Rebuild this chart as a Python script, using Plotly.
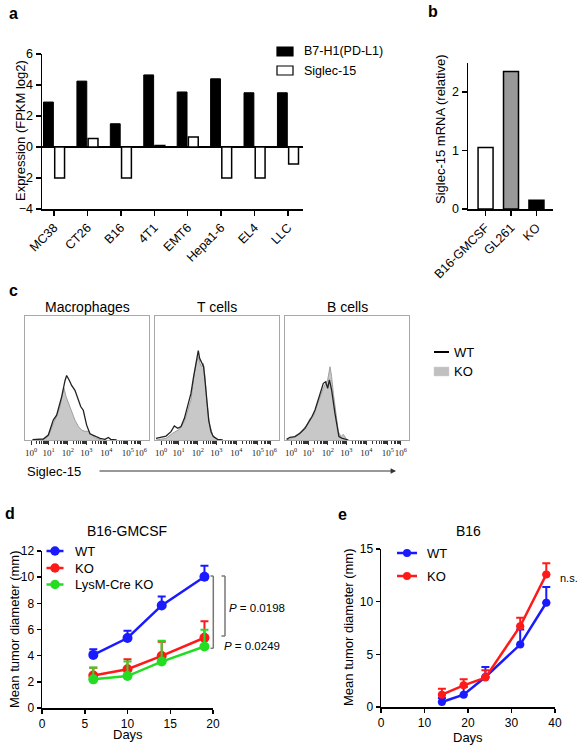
import math
import plotly.graph_objects as go

W, H = 582, 748

# ---------------- data ----------------
# panel a
cell_lines = ["MC38", "CT26", "B16", "4T1", "EMT6", "Hepa1-6", "EL4", "LLC"]
b7h1_expr = [2.9, 4.25, 1.5, 4.65, 3.55, 4.4, 3.5, 3.5]
siglec15_expr = [-2.0, 0.55, -2.0, 0.1, 0.65, -2.0, -2.0, -1.1]

# panel b
b_samples = ["B16-GMCSF", "GL261", "KO"]
b_mrna = [1.05, 2.35, 0.15]

# panel c (flow histograms; x in display channels, y in % of max)
decade_labels = ["10<sup>0</sup>", "10<sup>1</sup>", "10<sup>2</sup>", "10<sup>3</sup>",
                 "10<sup>4</sup>", "10<sup>5</sup>", "10<sup>6</sup>"]
decade_channels = [50, 190, 345, 495, 655, 830, 935]
cell_types = ["Macrophages", "T cells", "B cells"]

mac_wt_x = [60, 148, 188, 228, 255, 296, 323, 336, 358, 376, 403, 430, 449, 470, 497, 524, 564, 605, 645, 672, 691, 739]
mac_wt_y = [0.3, 0.8, 4, 16, 20, 35, 48, 52, 48, 44, 40, 32, 27, 24, 12, 5, 3, 1.3, 0.5, 2, 0.5, 0]
mac_ko_x = [134, 188, 228, 255, 282, 314, 331, 349, 376, 403, 430, 457, 484, 511, 538, 573, 618]
mac_ko_y = [0, 3, 13, 19, 27, 42, 35, 30, 23, 16, 11, 8, 7, 7, 4, 1.3, 0]

t_wt_x = [8, 48, 89, 129, 156, 183, 210, 237, 263, 290, 309, 325, 339, 349, 360, 371, 384, 392, 403, 417, 433, 452, 470, 505, 546]
t_wt_y = [1.3, 2.2, 3.2, 6.7, 11.3, 9.4, 10.8, 17.5, 26.9, 37.6, 49.7, 59.1, 68.5, 72, 65.9, 63.2, 60.5, 59.1, 48.4, 32.3, 16.1, 6.7, 2.7, 0.5, 0]
t_ko_x = [8, 89, 142, 196, 237, 263, 290, 317, 336, 352, 363, 376, 390, 403, 417, 438, 465, 505, 532]
t_ko_y = [0, 1.3, 5.4, 8.6, 14.8, 24.2, 32.3, 53.8, 63.2, 67.2, 61.8, 59.1, 61.8, 51.1, 32.3, 13.4, 4.0, 0.5, 0]

b_wt_x = [13, 40, 81, 121, 161, 188, 215, 242, 269, 296, 309, 328, 344, 358, 376, 403, 435, 457, 484, 511]
b_wt_y = [0.5, 2.2, 2.7, 5.4, 9.4, 13.4, 18.3, 24.2, 32.3, 40.3, 45.7, 47.0, 41.7, 48.4, 40.3, 21.5, 2.7, 1.6, 0.5, 0]
b_ko_x = [13, 54, 121, 148, 175, 202, 228, 255, 282, 309, 328, 344, 363, 376, 390, 409, 430, 452, 470, 497, 511]
b_ko_y = [0, 1.3, 5.9, 9.4, 12.1, 17.5, 18.8, 26.9, 34.9, 41.7, 45.7, 48.4, 59.1, 51.1, 37.6, 21.5, 6.7, 2.7, 4.6, 0.5, 0]

# panel d
d_days = [6, 10, 14, 19]
d_wt = [4.06, 5.35, 7.84, 10.03]
d_wt_err = [0.44, 0.56, 0.69, 0.84]
d_ko = [2.49, 2.96, 3.98, 5.37]
d_ko_err = [0.59, 0.77, 1.08, 1.26]
d_lysm = [2.19, 2.44, 3.55, 4.70]
d_lysm_err = [0.9, 1.11, 1.59, 1.29]

# panel e
e_days = [14, 19, 24, 32, 38]
e_wt = [0.48, 1.17, 2.85, 5.93, 9.9]
e_wt_err = [0.38, 0.73, 0.95, 1.43, 1.5]
e_ko = [1.17, 2.06, 2.79, 7.67, 12.59]
e_ko_err = [0.57, 0.57, 0.71, 0.8, 1.05]

BLUE, RED, GREEN = "#1a1aff", "#ff1a1a", "#22dd22"

# ---------------- helpers ----------------
FONT = "Arial, Liberation Sans, sans-serif"


def px(p):
    return p / W


def py(p):
    return 1 - p / H


def dom_x(a, b):
    return [px(a), px(b)]


def dom_y(top, bottom):
    return [py(bottom), py(top)]


fig = go.Figure()

# ---------------- panel a ----------------
fig.add_trace(go.Bar(x=cell_lines, y=b7h1_expr, name="B7-H1(PD-L1)",
                     marker=dict(color="black", line=dict(color="black", width=1)),
                     xaxis="x", yaxis="y"))
fig.add_trace(go.Bar(x=cell_lines, y=siglec15_expr, name="Siglec-15",
                     marker=dict(color="white", line=dict(color="black", width=1.5)),
                     xaxis="x", yaxis="y"))

# ---------------- panel b ----------------
fig.add_trace(go.Bar(x=b_samples, y=b_mrna, name="Siglec-15 mRNA",
                     marker=dict(color=["white", "#999999", "black"],
                                 line=dict(color="black", width=1.5)),
                     xaxis="x2", yaxis="y2"))

# ---------------- panel c ----------------
hist_sets = [(mac_wt_x, mac_wt_y, mac_ko_x, mac_ko_y),
             (t_wt_x, t_wt_y, t_ko_x, t_ko_y),
             (b_wt_x, b_wt_y, b_ko_x, b_ko_y)]
for i, (wx, wy, kx, ky) in enumerate(hist_sets):
    xa = "x%d" % (3 + i)
    ya = "y%d" % (3 + i)
    fig.add_trace(go.Scatter(x=kx, y=ky, mode="lines", fill="tozeroy",
                             fillcolor="#c8c8c8", line=dict(color="#a0a0a0", width=1),
                             name="KO", xaxis=xa, yaxis=ya))
    fig.add_trace(go.Scatter(x=wx, y=wy, mode="lines",
                             line=dict(color="#222222", width=1.3),
                             name="WT", xaxis=xa, yaxis=ya))

# ---------------- panel d ----------------
for name, vals, errs, col in [("WT", d_wt, d_wt_err, BLUE),
                              ("KO", d_ko, d_ko_err, RED),
                              ("LysM-Cre KO", d_lysm, d_lysm_err, GREEN)]:
    fig.add_trace(go.Scatter(x=d_days, y=vals, mode="lines+markers", name=name,
                             line=dict(color=col, width=2.5),
                             marker=dict(color=col, size=10),
                             error_y=dict(type="data", symmetric=False, array=errs,
                                          arrayminus=[0] * len(errs), color=col,
                                          thickness=2, width=4),
                             xaxis="x6", yaxis="y6", cliponaxis=False))

# ---------------- panel e ----------------
for name, vals, errs, col in [("WT", e_wt, e_wt_err, BLUE),
                              ("KO", e_ko, e_ko_err, RED)]:
    fig.add_trace(go.Scatter(x=e_days, y=vals, mode="lines+markers", name=name,
                             line=dict(color=col, width=2.5),
                             marker=dict(color=col, size=8),
                             error_y=dict(type="data", symmetric=False, array=errs,
                                          arrayminus=[0] * len(errs), color=col,
                                          thickness=2, width=4),
                             xaxis="x7", yaxis="y7", cliponaxis=False))

# ---------------- axes ----------------
tickfont = dict(family=FONT, size=12.5, color="black")
axis_common = dict(showline=True, linecolor="black", linewidth=1.5, ticks="outside",
                   tickcolor="black", tickwidth=1.5, ticklen=5, showgrid=False,
                   zeroline=False, tickfont=tickfont, automargin=False)

layout = dict(
    width=W, height=H, margin=dict(l=0, r=0, t=0, b=0, pad=0, autoexpand=False),
    paper_bgcolor="white", plot_bgcolor="white", showlegend=False, hovermode=False,
    barmode="group", bargap=0.33, bargroupgap=0.12,
    font=dict(family=FONT, size=13, color="black"),
)

layout["xaxis"] = dict(axis_common, domain=dom_x(42, 303), anchor="y",
                       range=[-0.36, 7.45], tickangle=-45, type="category")
layout["yaxis"] = dict(axis_common, domain=dom_y(54, 209), anchor="x",
                       range=[-4, 6], tickvals=[-4, -2, 0, 2, 4, 6],
                       zeroline=True, zerolinecolor="black", zerolinewidth=1.5)

layout["xaxis2"] = dict(axis_common, domain=dom_x(468, 553), anchor="y2",
                        range=[-0.69, 2.65], tickangle=-45, type="category")
layout["yaxis2"] = dict(axis_common, domain=dom_y(62.75, 209), anchor="x2",
                        range=[0, 2.5], tickvals=[0, 1, 2])

minor_vals = []
for i in range(len(decade_channels) - 1):
    c0, c1 = decade_channels[i], decade_channels[i + 1]
    for k in range(2, 10):
        minor_vals.append(c0 + math.log10(k) * (c1 - c0))

hist_boxes = [(25, 149), (155, 279), (285, 409)]
for i, (a, b) in enumerate(hist_boxes):
    layout["xaxis%d" % (3 + i)] = dict(
        domain=dom_x(a, b), anchor="y%d" % (3 + i), range=[0, 1000],
        showline=True, mirror=True, linecolor="#a8a8a8", linewidth=1.2,
        ticks="outside", tickcolor="#333333", tickwidth=1, ticklen=4,
        tickvals=decade_channels, ticktext=decade_labels, tickangle=0,
        tickfont=dict(family="Liberation Serif, DejaVu Serif, serif", size=9, color="#222"),
        minor=dict(tickvals=minor_vals, ticks="outside", ticklen=2.5, tickcolor="#333333", tickwidth=1),
        showgrid=False, zeroline=False, automargin=False)
    layout["yaxis%d" % (3 + i)] = dict(
        domain=dom_y(316, 440), anchor="x%d" % (3 + i), range=[0, 100],
        showline=True, mirror=True, linecolor="#a8a8a8", linewidth=1.2,
        showticklabels=False, ticks="", showgrid=False, zeroline=False, automargin=False)

tickfont12 = dict(family=FONT, size=12, color="black")
layout["xaxis6"] = dict(axis_common, domain=dom_x(42, 213), anchor="y6", ticklen=4,
                        range=[0, 20], tickvals=[0, 5, 10, 15, 20], tickfont=tickfont12)
layout["yaxis6"] = dict(axis_common, domain=dom_y(551, 708), anchor="x6", ticklen=4,
                        range=[0, 12], tickvals=[0, 2, 4, 6, 8, 10, 12], tickfont=tickfont12)
layout["xaxis7"] = dict(axis_common, domain=dom_x(381, 555), anchor="y7", ticklen=4,
                        range=[0, 40], tickvals=[0, 10, 20, 30, 40], tickfont=tickfont12)
layout["yaxis7"] = dict(axis_common, domain=dom_y(549, 707), anchor="x7", ticklen=4,
                        range=[0, 15], tickvals=[0, 5, 10, 15], tickfont=tickfont12)

fig.update_layout(**layout)

# ---------------- annotations & shapes ----------------
ann = []
shapes = []


def text(x, y, s, size=13, bold=False, xanchor="center", yanchor="middle", angle=0, family=FONT):
    ann.append(dict(x=px(x), y=py(y), xref="paper", yref="paper", text=("<b>%s</b>" % s) if bold else s,
                    showarrow=False, xanchor=xanchor, yanchor=yanchor, textangle=angle,
                    font=dict(family=family, size=size, color="black")))


def seg(x0, y0, x1, y1, color="#777777", width=1.5):
    shapes.append(dict(type="line", xref="paper", yref="paper", x0=px(x0), y0=py(y0),
                       x1=px(x1), y1=py(y1), line=dict(color=color, width=width)))


def rect(x0, y0, x1, y1, fill, line="black", width=1.2):
    shapes.append(dict(type="rect", xref="paper", yref="paper", x0=px(x0), y0=py(y0),
                       x1=px(x1), y1=py(y1), fillcolor=fill, line=dict(color=line, width=width)))


def dot(cx, cy, d, color):
    shapes.append(dict(type="circle", xref="paper", yref="paper", x0=px(cx - d / 2), y0=py(cy - d / 2),
                       x1=px(cx + d / 2), y1=py(cy + d / 2), fillcolor=color, line=dict(color=color, width=0)))


for lbl, (x, y) in zip("abcde", [(13, 14), (433, 12), (13, 290), (9.5, 513), (342, 514)]):
    text(x, y, lbl, size=16, bold=True)

text(20, 131, "Expression (FPKM log2)", size=13, angle=-90)
text(440, 129, "Siglec-15 mRNA (relative)", size=13, angle=-90)
text(14, 630, "Mean tumor diameter (mm)", size=13, angle=-90)
text(348, 628, "Mean tumor diameter (mm)", size=13, angle=-90)
text(128, 734, "Days", size=13)
text(468, 737, "Days", size=13)
text(127, 531, "B16-GMCSF", size=14)
text(468, 531, "B16", size=14)
for ct, (a, b) in zip(cell_types, hist_boxes):
    text((a + b) / 2, 307, ct, size=14)
text(25, 471, "Siglec-15", size=13, xanchor="left")
text(580, 578, "n.s.", size=11, xanchor="right")
text(227, 608, "<i>P</i> = 0.0198", size=11.5, xanchor="left")
text(222, 646, "<i>P</i> = 0.0249", size=11.5, xanchor="left")

ann.append(dict(x=px(396), y=py(471), xref="paper", yref="paper", ax=-298, ay=0,
                axref="pixel", ayref="pixel", text="", showarrow=True,
                arrowhead=2, arrowsize=0.9, arrowwidth=1.2, arrowcolor="#333333"))

# legend a
rect(277, 47, 293, 56, "black")
text(302, 51, "B7-H1(PD-L1)", size=12.5, xanchor="left")
rect(277, 66, 293, 75, "white")
text(302, 71, "Siglec-15", size=12.5, xanchor="left")

# legend c
seg(434, 352, 449, 352, color="black", width=2)
text(452, 352, "WT", size=13, xanchor="left")
rect(434, 367, 449, 376, "#c0c0c0", line="#d0d0d0", width=0.5)
text(452, 371, "KO", size=13, xanchor="left")

# legend d
for (name, col), yy in zip([("WT", BLUE), ("KO", RED), ("LysM-Cre KO", GREEN)], [551, 568, 584.5]):
    seg(46.5, yy, 63.5, yy, color=col, width=2.5)
    dot(55, yy, 9.5, col)
    text(72.5, yy, name, size=13, xanchor="left")

# legend e
for (name, col), yy in zip([("WT", BLUE), ("KO", RED)], [553, 576]):
    seg(397, yy, 417, yy, color=col, width=2.5)
    dot(407, yy, 8, col)
    text(425, yy, name, size=13, xanchor="left")

# brackets in panel d
seg(213.3, 576, 213.3, 648.3)
seg(210.5, 576, 213.3, 576)
seg(210.5, 648.3, 213.3, 648.3)
seg(225, 576, 225, 636)
seg(221.5, 576, 225, 576)
seg(221.5, 636, 225, 636)

fig.update_layout(annotations=ann, shapes=shapes)

# remove the default page margin so the figure sits at the window's top-left corner
fig.write_html("out.html",
               config={"displayModeBar": False, "staticPlot": True},
               post_script="document.body.style.margin='0';document.body.style.overflow='hidden';")
